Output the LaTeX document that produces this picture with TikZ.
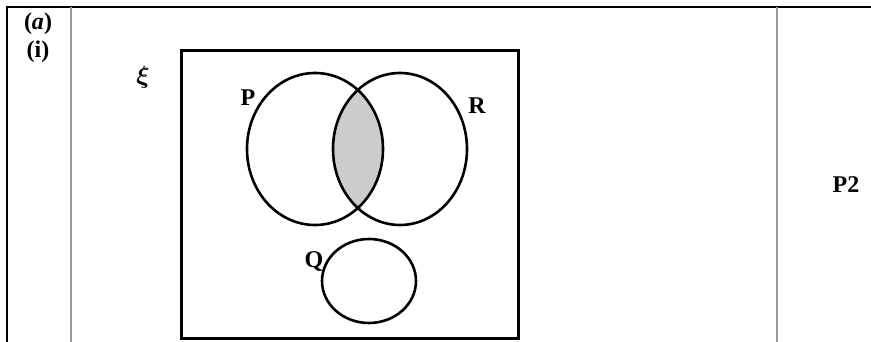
\documentclass[tikz,border=0pt]{standalone}
\usepackage{amsmath}
\usepackage{bm}
\usepackage{fontspec}
\setmainfont{Liberation Serif}
\usetikzlibrary{shapes.geometric}
\begin{document}
\begin{tikzpicture}[x=1pt,y=-1pt,
  setbox/.style={draw, line width=2.6pt, shape=ellipse, inner sep=0pt},
  lbl/.style={font=\fontsize{24}{26}\selectfont\bfseries, inner sep=0pt},
  sep/.style={draw=gray!80, line width=2.2pt},
  frame/.style={draw=black, line width=2.6pt}]
\useasboundingbox (0,0) rectangle (871,342);
% outer frame
\coordinate (tl) at (7,7);
\coordinate (tr) at (871,7);
\coordinate (bl) at (7,342);
\draw[frame] (bl) -- (tl) -- (tr);
% separators
\coordinate (s1t) at (71,7);
\coordinate (s1b) at (71,342);
\coordinate (s2t) at (777,7);
\coordinate (s2b) at (777,342);
\draw[sep] (s1t) -- (s1b);
\draw[sep] (s2t) -- (s2b);
% universal set
\node[draw, line width=3pt, minimum width=337pt, minimum height=287pt, inner sep=0pt] (U) at (349.5,194.5) {};
% shaded intersection
\begin{scope}
  \clip (315,149) ellipse [x radius=68, y radius=76];
  \fill[gray!40] (400,149) ellipse [x radius=67, y radius=76];
\end{scope}
\node[setbox, minimum width=136pt, minimum height=152pt] (P) at (315,149) {};
\node[setbox, minimum width=134pt, minimum height=152pt] (R) at (400,149) {};
\node[setbox, minimum width=94pt, minimum height=84pt] (Q) at (369,281) {};
% labels
\node[lbl] (lP) at (248,98) {P};
\node[lbl] (lR) at (477,106) {R};
\node[lbl] (lQ) at (314,261) {Q};
\node[font=\fontsize{27}{29}\selectfont, inner sep=0pt] (xi) at (143,77) {$\bm{\xi}$};
\node[lbl] (a) at (38,24) {(\textit{a})};
\node[lbl] (i) at (38,52) {(i)};
\node[lbl] (p2) at (846,185) {P2};
\end{tikzpicture}
\end{document}
